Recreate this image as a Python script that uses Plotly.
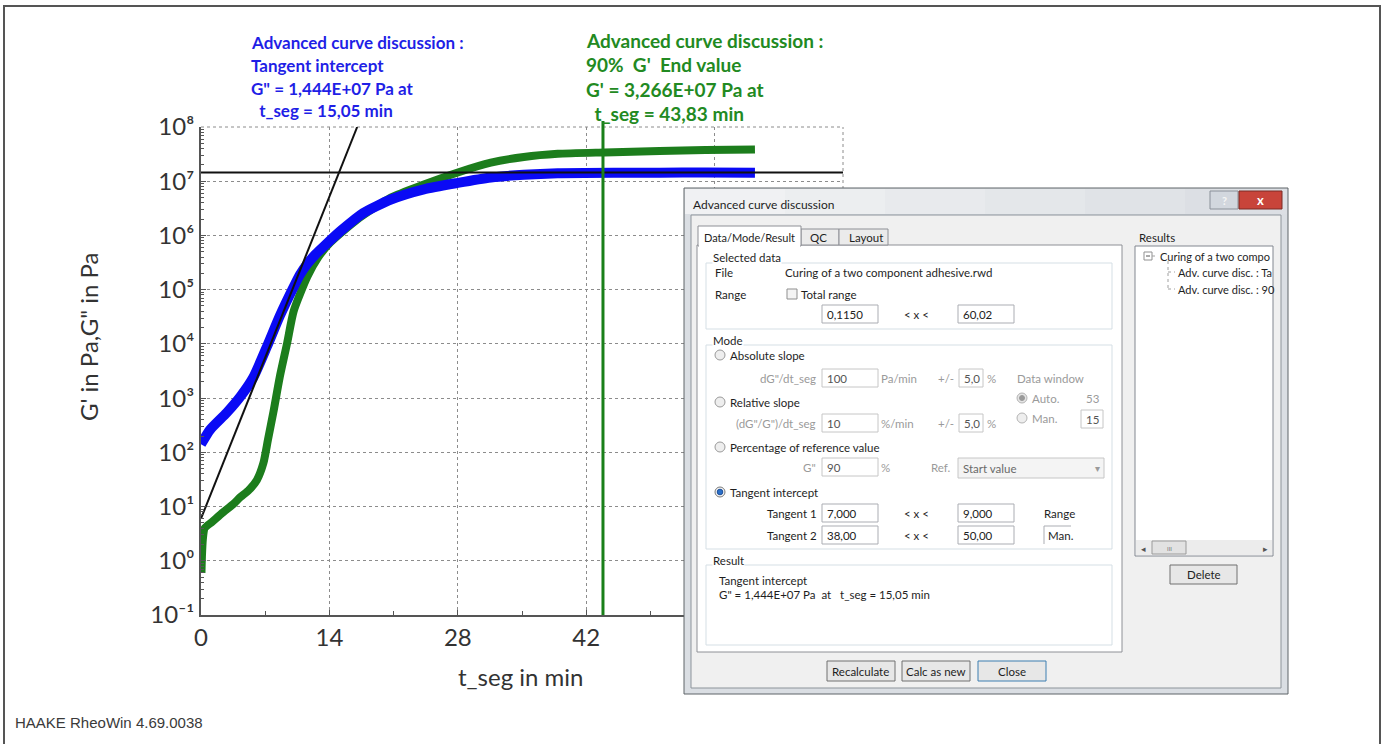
import plotly.graph_objects as go

# ---------------- data ----------------
# G'' (blue) : t_seg in min, G'' in Pa
t_gpp = [0, 1.0, 2.8, 4.3, 5.7, 7.2, 8.6, 10.1, 10.8, 11.6, 12.5, 13.4, 15.2, 17.7,
         20.7, 24.3, 28.0, 31.6, 35.2, 38.9, 45.0, 50.0, 55.0, 60.4]
gpp = [141, 263, 537, 1.07e3, 2.4e3, 9.0e3, 3.3e4, 1.12e5, 1.9e5, 3.0e5, 4.5e5, 6.3e5,
       1.2e6, 2.6e6, 4.6e6, 7.1e6, 9.3e6, 1.17e7, 1.32e7, 1.41e7, 1.44e7, 1.44e7, 1.45e7, 1.44e7]

# G' (green) : t_seg in min, G' in Pa
t_gp = [0.05, 0.1, 0.2, 0.4, 1.2, 2.4, 3.5, 4.3, 5.2, 6.1, 6.8, 7.3, 7.9, 8.6, 9.4, 10.1,
        11.6, 12.8, 14.1, 17.0, 20.7, 24.3, 28.0, 31.6, 35.2, 38.9, 44.0, 50.0, 55.0, 60.4]
gp = [0.6, 1.2, 2.5, 4.0, 5.2, 7.8, 11, 15, 20, 31, 63, 170, 560, 2.5e3, 1.05e4, 4.0e4,
      1.74e5, 4.0e5, 7.4e5, 1.95e6, 5.0e6, 8.7e6, 1.45e7, 2.2e7, 2.8e7, 3.2e7, 3.4e7,
      3.6e7, 3.75e7, 3.85e7]

# tangent through the G'' curve and horizontal end-value line
tan_t = [0, 17.03]
tan_G = [6.0, 1e8]
end_t = [0, 70]
end_G = [1.444e7, 1.444e7]

# results of the curve discussion
t_tangent, G_tangent = 15.05, 1.444e7
t_90, G_90 = 43.83, 3.266e7

x_ticks = [0, 14, 28, 42, 56, 70]
x_minor = [7, 21, 35, 49, 63]
y_exps = [-1, 0, 1, 2, 3, 4, 5, 6, 7, 8]
y_labels = ["10\u207b\u00b9", "10\u2070", "10\u00b9", "10\u00b2", "10\u00b3",
            "10\u2074", "10\u2075", "10\u2076", "10\u2077", "10\u2078"]

# ---------------- figure ----------------
W, H = 1386, 744
L, R, T, B = 201, 843, 127, 615


def px(x):
    return (x - L) / (R - L)


def py(y):
    return (B - y) / (B - T)


FONT = "Lato"
BLUE = "#0a0af5"
GREEN = "#1c7d1c"
DS = 11.5  # dialog font size

fig = go.Figure()
fig.add_trace(go.Scatter(x=t_gp, y=gp, mode="lines",
                         line=dict(color=GREEN, width=8, shape="spline", smoothing=0.6),
                         showlegend=False, hoverinfo="skip"))
fig.add_trace(go.Scatter(x=t_gpp, y=gpp, mode="lines",
                         line=dict(color=BLUE, width=10, shape="spline", smoothing=0.6),
                         showlegend=False, hoverinfo="skip"))
fig.add_trace(go.Scatter(x=end_t, y=end_G, mode="lines",
                         line=dict(color="#111111", width=2),
                         showlegend=False, hoverinfo="skip"))
fig.add_trace(go.Scatter(x=tan_t, y=tan_G, mode="lines",
                         line=dict(color="#111111", width=2),
                         showlegend=False, hoverinfo="skip"))

shapes = []
annots = []

# vertical line marking the 90% end value
shapes.append(dict(type="line", xref="x", yref="paper", x0=t_90, x1=t_90,
                   y0=0, y1=py(121), line=dict(color="#1a801a", width=3), layer="above"))
# dashed top / right border of the plot area
shapes.append(dict(type="line", xref="paper", yref="paper", x0=0, x1=1, y0=1, y1=1,
                   line=dict(color="#8c8c8c", width=1, dash="3px,3px"), layer="below"))
shapes.append(dict(type="line", xref="paper", yref="paper", x0=1, x1=1, y0=0, y1=1,
                   line=dict(color="#8c8c8c", width=1, dash="3px,3px"), layer="below"))


def rect(x0, y0, x1, y1, fill=None, line=None, w=1):
    shapes.append(dict(type="rect", xref="paper", yref="paper",
                       x0=px(x0), x1=px(x1), y0=py(y1), y1=py(y0),
                       fillcolor=fill if fill else "rgba(0,0,0,0)",
                       line=dict(color=line if line else "rgba(0,0,0,0)", width=w if line else 0),
                       layer="above"))


def seg(x0, y0, x1, y1, color, w=1, dash=None):
    d = dict(color=color, width=w)
    if dash:
        d["dash"] = dash
    shapes.append(dict(type="line", xref="paper", yref="paper",
                       x0=px(x0), x1=px(x1), y0=py(y0), y1=py(y1), line=d, layer="above"))


def circ(cx, cy, r, fill, line, w=1):
    shapes.append(dict(type="circle", xref="paper", yref="paper",
                       x0=px(cx - r), x1=px(cx + r), y0=py(cy + r), y1=py(cy - r),
                       fillcolor=fill, line=dict(color=line, width=w), layer="above"))


def text(x, y, s, size=DS, color="#1e1e1e", xa="left", family=FONT, bg=None, bold=False):
    if bold:
        s = "<b>" + s + "</b>"
    a = dict(x=px(x), y=py(y), xref="paper", yref="paper", text=s, showarrow=False,
             xanchor=xa, yanchor="middle", font=dict(size=size, color=color, family=family),
             borderpad=0)
    if bg:
        a["bgcolor"] = bg
    annots.append(a)


# ---- chart annotations ----
blue_lines = ["Advanced curve discussion :", "Tangent intercept",
              "G\" = %s Pa at" % ("{:.3E}".format(G_tangent).replace(".", ",")),
              " t_seg = %s min" % ("{:.2f}".format(t_tangent).replace(".", ","))]
for i, s in enumerate(blue_lines):
    text(250 + (4 if i == 3 else 0), 43 + 22.5 * i, s, size=17, color="#1f1fe6", bold=True)
green_lines = ["Advanced curve discussion :", "90%  G'  End value",
               "G' = %s Pa at" % ("{:.3E}".format(G_90).replace(".", ",")),
               " t_seg = %s min" % ("{:.2f}".format(t_90).replace(".", ","))]
for i, s in enumerate(green_lines):
    text(585 + (4 if i == 3 else 0), 40 + 24.6 * i, s, size=19, color="#228a22", bold=True)

text(88, 337, "G' in Pa,G\" in Pa", size=24, color="#333333", xa="center")
annots[-1]["textangle"] = -90
text(521, 676, "t_seg in min", size=24, color="#333333", xa="center")
text(14, 722, "HAAKE RheoWin 4.69.0038", size=15, color="#3a3a3a", family="Liberation Sans")

# ---- outer frame of the page ----
shapes.append(dict(type="rect", xref="paper", yref="paper", x0=px(4), x1=px(1380),
                   y0=py(760), y1=py(6), line=dict(color="#555555", width=2),
                   fillcolor="rgba(0,0,0,0)", layer="above"))

# ---- dialog window ----
GR = "#9a9a9a"   # disabled text
rect(684, 188, 1288, 694, fill="#dadee3", line="#5e6469")
# title bar shading (light on the left, darker towards the right)
tb_cols = ["#f0f1f3", "#eceef0", "#e8eaed", "#e4e7ea", "#e0e3e7", "#dcdfe4"]
for i, c in enumerate(tb_cols):
    rect(685 + i * 100, 189, 685 + (i + 1) * 100 + 2, 214, fill=c)
text(692, 204, "Advanced curve discussion", size=12, color="#1e1e1e")
rect(1210, 191, 1238, 209, fill="#d2d7de", line="#8a9099")
text(1224, 200, "?", size=11, color="#f5f5f5", xa="center", bold=True)
rect(1239, 191, 1282, 209, fill="#c8443a", line="#7a2a24")
text(1260, 200, "x", size=13, color="#ffffff", xa="center", bold=True)
rect(691, 215, 1281, 688, fill="#f0f0f0", line="#8d949b")

# tab page
rect(697, 245, 1122, 652, fill="#ffffff", line="#8e9096")
rect(801, 229, 839, 245, fill="#ebebeb", line="#8e9096")
rect(839, 229, 888, 245, fill="#ebebeb", line="#8e9096")
rect(698, 226, 801, 246, fill="#ffffff", line="#8e9096")
rect(699, 243, 800, 247, fill="#ffffff")
text(703, 237, "Data/Mode/Result", size=11)
text(809, 237, "QC")
text(848, 237, "Layout")

# group boxes
rect(706, 263, 1112, 329, line="#d5dfe5")
rect(706, 345, 1112, 549, line="#d5dfe5")
rect(706, 565, 1112, 645, line="#d5dfe5")
text(712, 257, "Selected data", bg="#ffffff")
text(712, 340, "Mode", bg="#ffffff")
text(712, 560, "Result", bg="#ffffff")

# selected data
text(714, 272, "File")
text(784, 272, "Curing of a two component adhesive.rwd")
text(714, 294, "Range")
rect(787, 289, 797, 299, fill="#f4f4f4", line="#8f8f8f")
text(800, 294, "Total range")


def box(x0, y0, x1, y1, s, col="#222222", line="#abadb3"):
    rect(x0, y0, x1, y1, fill="#ffffff", line=line)
    text(x0 + 4, (y0 + y1) / 2, s, color=col)


box(822, 305, 878, 323, "0,1150")
text(903, 314, "< x <")
box(958, 305, 1014, 323, "60,02")

# mode
circ(720, 355, 5, "#eeeeee", "#9a9a9a")
text(729, 355, "Absolute slope")
text(817, 378, "dG\"/dt_seg", color=GR, xa="right")
box(822, 369, 878, 387, "100", col="#555555", line="#c6c6c6")
text(880, 378, "Pa/min", color=GR)
text(937, 378, "+/-", color=GR)
box(959, 369, 983, 387, "5,0", col="#555555", line="#c6c6c6")
text(986, 378, "%", color=GR)
text(1016, 378, "Data window", color=GR)

circ(720, 402, 5, "#eeeeee", "#9a9a9a")
text(729, 402, "Relative slope")
circ(1022, 398, 5, "#e4e4e4", "#b4b4b4")
circ(1022, 398, 2.5, "#9a9a9a", "#9a9a9a")
text(1031, 398, "Auto.", color=GR)
text(1085, 398, "53", color=GR)
text(817, 423, "(dG\"/G\")/dt_seg", color=GR, xa="right")
box(822, 414, 878, 432, "10", col="#555555", line="#c6c6c6")
text(880, 423, "%/min", color=GR)
text(937, 423, "+/-", color=GR)
box(959, 414, 983, 432, "5,0", col="#555555", line="#c6c6c6")
text(986, 423, "%", color=GR)
circ(1022, 418, 5, "#eeeeee", "#b4b4b4")
text(1031, 418, "Man.", color=GR)
box(1081, 410, 1103, 428, "15", col="#555555", line="#c6c6c6")

circ(720, 447, 5, "#eeeeee", "#9a9a9a")
text(729, 447, "Percentage of reference value")
text(817, 467, "G\"", color=GR, xa="right")
box(822, 458, 878, 476, "90", col="#555555", line="#c6c6c6")
text(880, 467, "%", color=GR)
text(930, 467, "Ref.", color=GR)
rect(958, 458, 1104, 478, fill="#f4f4f4", line="#c6c6c6")
text(962, 468, "Start value", color="#6a6a6a")
text(1097, 468, "\u25be", size=10, color="#9a9a9a", xa="center")

circ(720, 492, 5, "#f2f2f2", "#7a7a7a")
circ(720, 492, 2.8, "#2a6fc9", "#1d4f9a")
text(729, 492, "Tangent intercept")
text(818, 513, "Tangent 1", xa="right")
box(822, 504, 878, 522, "7,000")
text(903, 513, "< x <")
box(958, 504, 1014, 522, "9,000")
text(1043, 513, "Range")
text(818, 535, "Tangent 2", xa="right")
box(822, 526, 878, 544, "38,00")
text(903, 535, "< x <")
box(958, 526, 1014, 544, "50,00")
seg(1044, 526, 1071, 526, "#abadb3")
seg(1044, 526, 1044, 544, "#abadb3")
text(1047, 535, "Man.")

# result text
text(718, 580, "Tangent intercept")
text(718, 594, "G\" = 1,444E+07 Pa  at   t_seg = 15,05 min")

# results list
text(1138, 237, "Results")
rect(1135, 246, 1273, 556, fill="#ffffff", line="#828790")
rect(1144, 252, 1152, 260, fill="#ffffff", line="#919191")
seg(1146, 256, 1150, 256, "#555555")
seg(1152, 256, 1157, 256, "#a0a0a0", dash="dot")
text(1159, 256, "Curing of a two compo", size=11)
seg(1168, 261, 1168, 289, "#a0a0a0", dash="dot")
seg(1168, 272, 1175, 272, "#a0a0a0", dash="dot")
seg(1168, 289, 1175, 289, "#a0a0a0", dash="dot")
text(1177, 272, "Adv. curve disc. : Ta", size=11)
text(1177, 289, "Adv. curve disc. : 90", size=11)
rect(1136, 540, 1272, 555, fill="#ececec")
rect(1152, 541, 1186, 554, fill="#e2e2e2", line="#9a9a9a")
text(1143, 548, "\u25c2", size=9, color="#555555", xa="center")
text(1265, 548, "\u25b8", size=9, color="#555555", xa="center")
text(1169, 548, "III", size=6, color="#777777", xa="center")


# buttons
def button(x0, y0, x1, y1, s, line="#707070"):
    rect(x0, y0, x1, y1, fill="#e7e7e7", line=line)
    text((x0 + x1) / 2, (y0 + y1) / 2, s, xa="center")


button(1170, 565, 1237, 584, "Delete")
button(827, 661, 895, 681, "Recalculate")
button(902, 661, 970, 681, "Calc as new")
button(978, 661, 1046, 681, "Close", line="#3c7fb1")

# ---------------- layout ----------------
y_vals = [10.0 ** e for e in y_exps]
y_minor = [k * 10.0 ** e for e in y_exps[:-1] for k in range(2, 10)]

fig.update_layout(
    width=W, height=H, autosize=False,
    margin=dict(l=L, r=W - R, t=T, b=H - B, pad=0),
    paper_bgcolor="#ffffff", plot_bgcolor="#ffffff",
    font=dict(family=FONT, color="#333333"),
    showlegend=False,
    shapes=shapes, annotations=annots,
    xaxis=dict(range=[0, 70], tickmode="array", tickvals=x_ticks,
               ticktext=[str(v) for v in x_ticks],
               showgrid=True, gridcolor="#8c8c8c", griddash="3px,3px", gridwidth=1,
               showline=True, linecolor="#555555", linewidth=2, zeroline=False,
               ticks="inside", ticklen=5, tickcolor="#555555",
               minor=dict(tickvals=x_minor, ticks="inside", ticklen=4,
                          tickcolor="#555555", showgrid=False),
               tickfont=dict(size=24, color="#333333")),
    yaxis=dict(type="log", range=[-1, 8], tickmode="array", tickvals=y_vals,
               ticktext=y_labels,
               showgrid=True, gridcolor="#8c8c8c", griddash="3px,3px", gridwidth=1,
               showline=True, linecolor="#555555", linewidth=2, zeroline=False,
               ticks="inside", ticklen=5, tickcolor="#555555",
               minor=dict(tickvals=y_minor, ticks="inside", ticklen=3,
                          tickcolor="#555555", showgrid=False),
               tickfont=dict(size=24, color="#333333")),
)

fig.write_html("out.html", config={"displayModeBar": False},
               post_script="document.body.style.margin='0';")
